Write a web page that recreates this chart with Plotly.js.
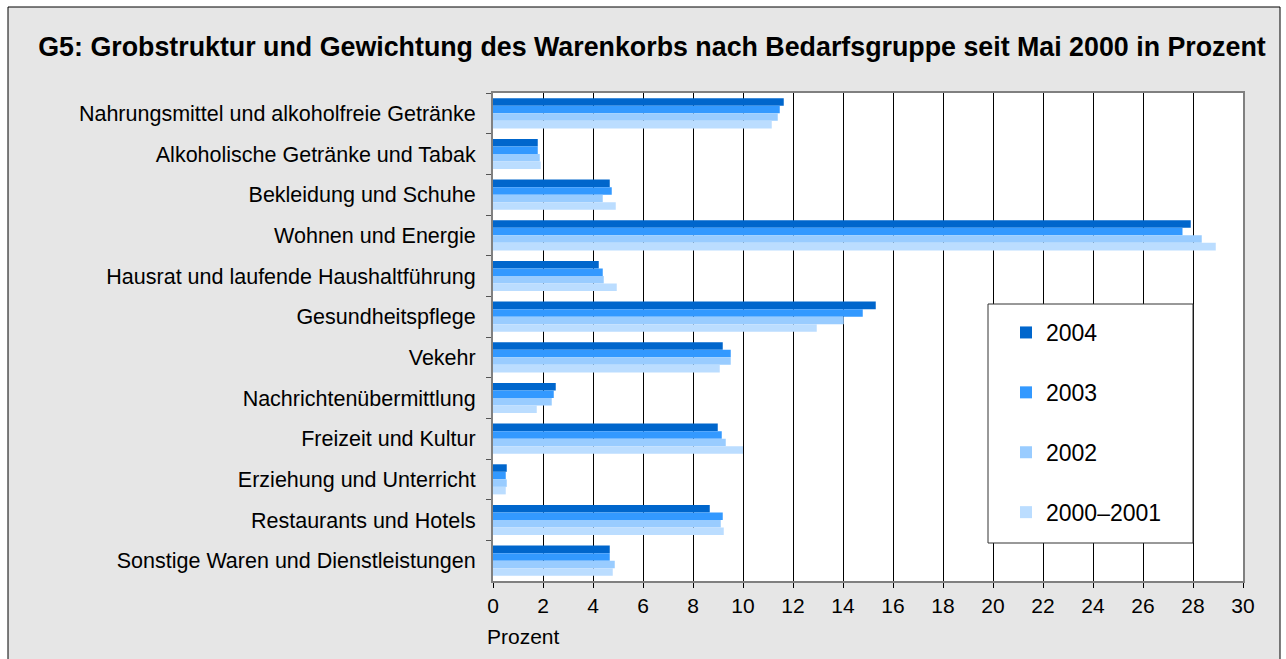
<!DOCTYPE html>
<html>
<head>
<meta charset="utf-8">
<script src="https://cdn.plot.ly/plotly-3.0.1.min.js"></script>
<style>body{margin:0;background:#fff}#chart{width:1286px;height:659px}</style>
</head>
<body>
<div id="chart"></div>
<script>
const categories = [
  "Nahrungsmittel und alkoholfreie Getränke",
  "Alkoholische Getränke und Tabak",
  "Bekleidung und Schuhe",
  "Wohnen und Energie",
  "Hausrat und laufende Haushaltführung",
  "Gesundheitspflege",
  "Vekehr",
  "Nachrichtenübermittlung",
  "Freizeit und Kultur",
  "Erziehung und Unterricht",
  "Restaurants und Hotels",
  "Sonstige Waren und Dienstleistungen"
];
const seriesNames = ["2004", "2003", "2002", "2000–2001"];
const v2004 = [11.63, 1.79, 4.67, 27.91, 4.23, 15.31, 9.19, 2.51, 8.99, 0.55, 8.67, 4.67];
const v2003 = [11.47, 1.79, 4.75, 27.58, 4.39, 14.79, 9.51, 2.43, 9.15, 0.51, 9.19, 4.67];
const v2002 = [11.39, 1.87, 4.39, 28.35, 4.43, 14.03, 9.51, 2.35, 9.31, 0.55, 9.11, 4.87];
const v2000 = [11.15, 1.91, 4.91, 28.91, 4.95, 12.95, 9.07, 1.75, 10.0, 0.51, 9.23, 4.79];
const colors = ["#0066CC", "#3399FF", "#99CCFF", "#BBDDFF"];
const xTicks = [0,2,4,6,8,10,12,14,16,18,20,22,24,26,28,30];

const values = [v2004, v2003, v2002, v2000];
const traces = values.map((v, i) => ({
  type: "bar",
  orientation: "h",
  name: seriesNames[i],
  x: v,
  y: categories,
  marker: {color: colors[i], line: {width: 0}},
  legendgroup: "g" + i,
  hoverinfo: "x+y+name"
}));

const FONT = "Liberation Sans, Arial, sans-serif";
// plot area: x 493..1243, y 93..581
const PX = x => (x - 493) / 750;
const PY = y => (581 - y) / 488;
const layout = {
  width: 1286, height: 659,
  margin: {l: 493, r: 43, t: 93, b: 78, pad: 0},
  paper_bgcolor: "#ffffff",
  plot_bgcolor: "#ffffff",
  font: {family: FONT, size: 21, color: "#000"},
  title: {
    text: "<b>G5: Grobstruktur und Gewichtung des Warenkorbs nach Bedarfsgruppe seit Mai 2000 in Prozent</b>",
    font: {family: FONT, size: 26.8, color: "#000"},
    x: 652 / 1286, xanchor: "center", xref: "container",
    y: 1 - 47/659, yanchor: "middle", yref: "container"
  },
  barmode: "group",
  bargap: 0.26,
  bargroupgap: 0,
  xaxis: {
    range: [0, 30],
    tickvals: xTicks,
    ticktext: xTicks.map(String),
    showgrid: true, gridcolor: "#000", gridwidth: 1,
    zeroline: false,
    showline: true, linecolor: "#808080", linewidth: 2, mirror: true,
    ticks: "outside", ticklen: 5, tickcolor: "#000",
    tickfont: {family: FONT, size: 21, color: "#000"},
    fixedrange: true
  },
  yaxis: {
    autorange: "reversed",
    type: "category",
    showgrid: false,
    zeroline: false,
    showline: true, linecolor: "#808080", linewidth: 2, mirror: true,
    ticks: "outside", ticklen: 5, tickcolor: "#555", tickson: "boundaries",
    tickfont: {family: FONT, size: 21.5, color: "#000"},
    ticklabelstandoff: 11,
    fixedrange: true
  },
  legend: {
    x: PX(1006), xanchor: "left",
    y: PY(311), yanchor: "top",
    bgcolor: "rgba(0,0,0,0)",
    borderwidth: 0,
    font: {family: FONT, size: 23, color: "#000"},
    traceorder: "grouped",
    tracegroupgap: 27,
    itemwidth: 30
  },
  shapes: [
    {type: "rect", xref: "paper", yref: "paper", layer: "below",
     x0: PX(8), x1: PX(1280),
     y0: PY(665), y1: PY(7),
     fillcolor: "#E6E6E6", line: {color: "#000", width: 1}},
    {type: "rect", xref: "paper", yref: "paper", layer: "below",
     x0: 0, x1: 1, y0: 0, y1: 1,
     fillcolor: "#ffffff", line: {width: 0}},
    {type: "rect", xref: "paper", yref: "paper", layer: "above",
     x0: PX(988), x1: PX(1193), y0: PY(543), y1: PY(304),
     fillcolor: "#ffffff", line: {color: "#333", width: 1}}
  ],
  annotations: [
    {text: "Prozent", xref: "paper", yref: "paper",
     x: PX(485), xanchor: "left",
     y: PY(636), yanchor: "middle",
     showarrow: false, font: {family: FONT, size: 21, color: "#000"}}
  ]
};

Plotly.newPlot("chart", traces, layout, {displayModeBar: false, staticPlot: true});
</script>
</body>
</html>
